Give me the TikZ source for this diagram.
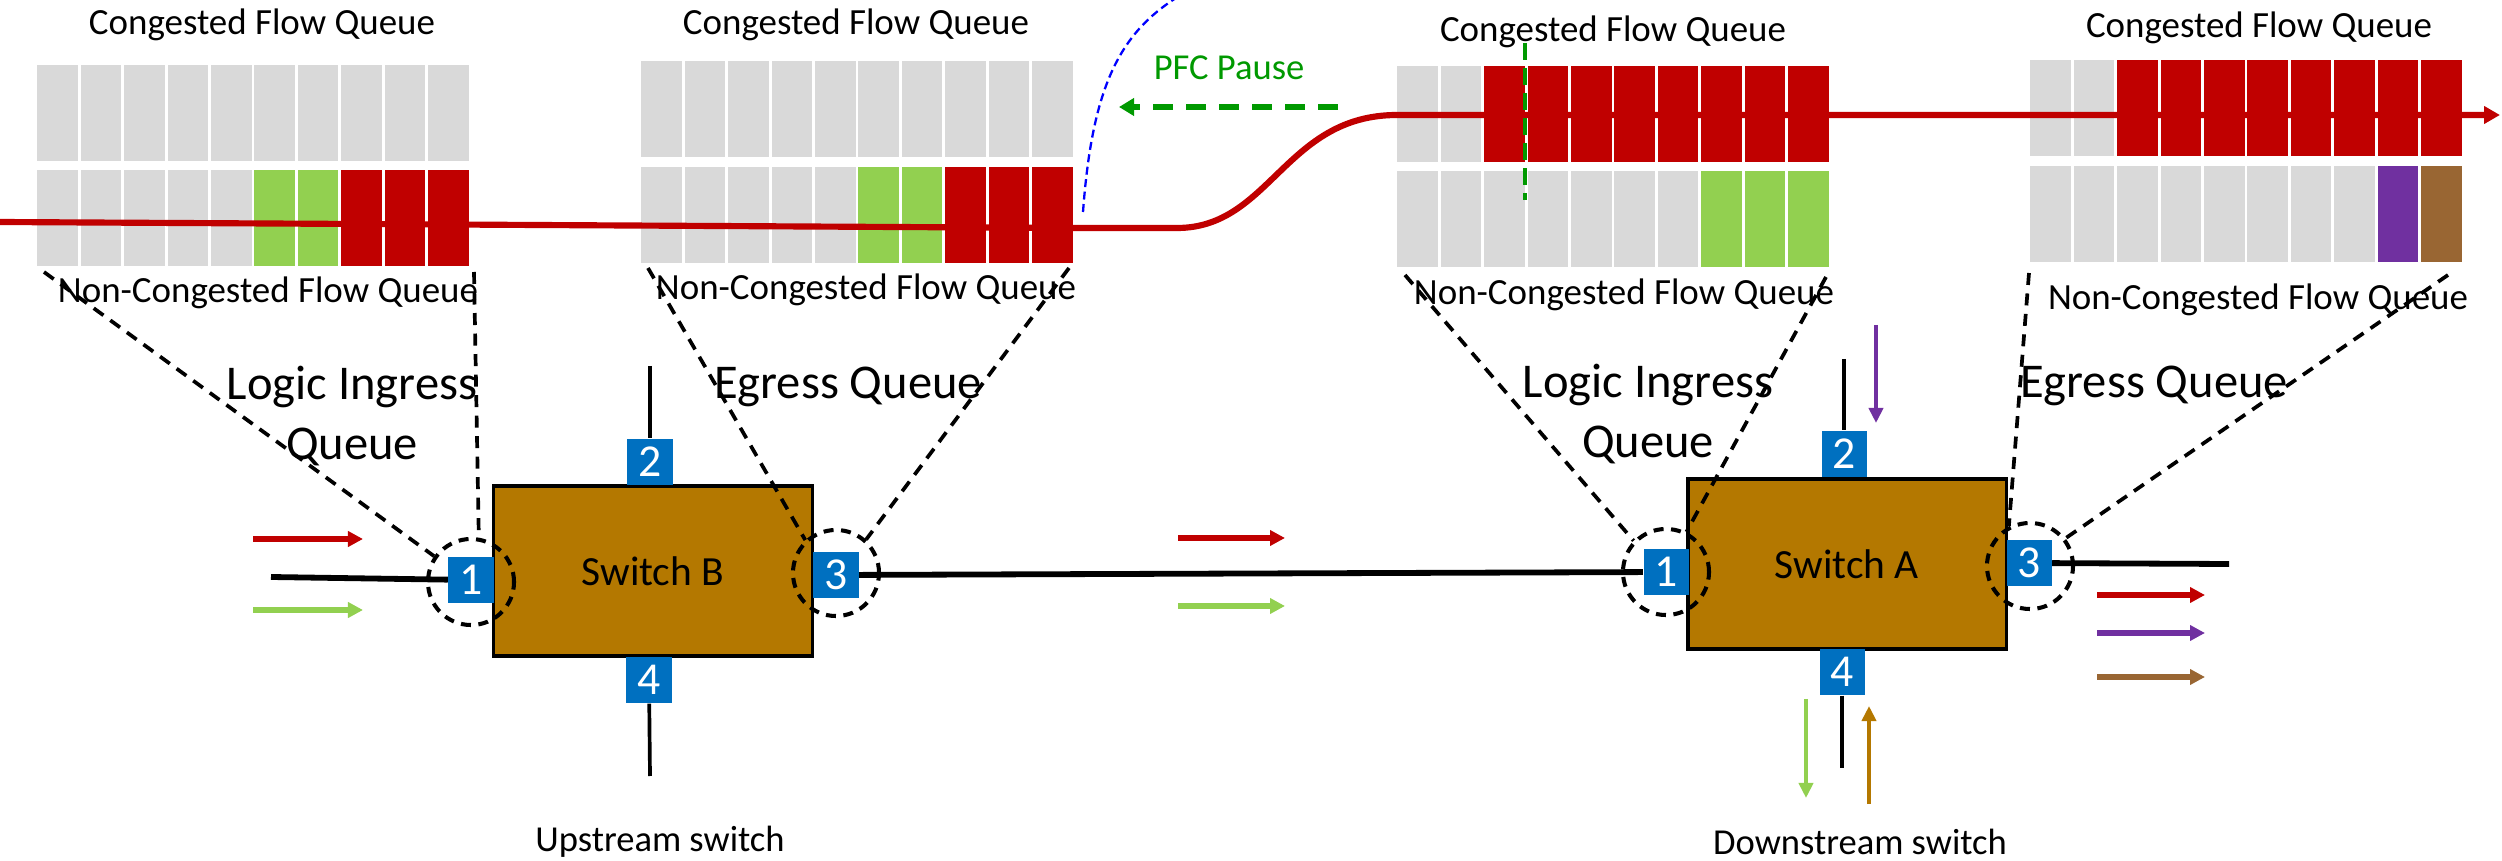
\documentclass[tikz,border=0pt]{standalone}
\usepackage{fontspec}
\setmainfont{Carlito}
\usetikzlibrary{arrows.meta}
\definecolor{qgray}{RGB}{217,217,217}
\definecolor{qred}{RGB}{192,0,0}
\definecolor{qgreen}{RGB}{146,208,80}
\definecolor{qpurple}{RGB}{112,48,160}
\definecolor{qbrown}{RGB}{153,102,51}
\definecolor{swbody}{RGB}{180,120,0}
\definecolor{portblue}{RGB}{0,112,192}
\definecolor{pfcgreen}{RGB}{0,153,0}
\def\qrow(#1,#2)#3{\foreach \qc [count=\i from 0] in {#3} \draw[qcell, fill=\qc] ({#1+\i*43.4}, #2) rectangle +(43.4, 98);}

\begin{document}
\begin{tikzpicture}[x=0.01cm, y=-0.01cm,
    qcell/.style={draw=white, line width=0.8pt},
    portbox/.style={fill=portblue, text=white, minimum width=0.45cm, minimum height=0.46cm, inner sep=0pt, font=\fontsize{13}{13}\selectfont},
    swbox/.style={draw, line width=0.9pt, fill=swbody, minimum width=3.18cm, minimum height=1.70cm, font=\fontsize{11.8}{12}\selectfont},
    zring/.style={circle, draw, line width=1.15pt, dash pattern=on 0.1cm off 0.075cm, minimum size=0.86cm, inner sep=0pt},
    zoomline/.style={line width=1.05pt, dash pattern=on 0.12cm off 0.085cm},
    wire/.style={line width=1.65pt},
    stubwire/.style={line width=1.05pt},
    flow/.style={line width=1.5pt, -{Triangle[length=0.15cm, width=0.15cm]}},
    vflow/.style={line width=1.15pt, -{Triangle[length=0.15cm, width=0.14cm]}},
    qtitle/.style={font=\fontsize{10.5}{12}\selectfont},
    qlabel/.style={font=\fontsize{13.8}{16.8}\selectfont, align=center},
    swname/.style={font=\fontsize{10.4}{12}\selectfont}]
	%%%%% START %%%%%
	\useasboundingbox (0,0) rectangle (2502,861);

	% queues of switch B
	\qrow(36,64){qgray,qgray,qgray,qgray,qgray,qgray,qgray,qgray,qgray,qgray}
	\qrow(36,169){qgray,qgray,qgray,qgray,qgray,qgreen,qgreen,qred,qred,qred}
	\qrow(640,60){qgray,qgray,qgray,qgray,qgray,qgray,qgray,qgray,qgray,qgray}
	\qrow(640,166){qgray,qgray,qgray,qgray,qgray,qgreen,qgreen,qred,qred,qred}

	% queues of switch A
	\qrow(1396,65){qgray,qgray,qred,qred,qred,qred,qred,qred,qred,qred}
	\qrow(1396,170){qgray,qgray,qgray,qgray,qgray,qgray,qgray,qgreen,qgreen,qgreen}
	\qrow(2029,59){qgray,qgray,qred,qred,qred,qred,qred,qred,qred,qred}
	\qrow(2029,165){qgray,qgray,qgray,qgray,qgray,qgray,qgray,qgray,qpurple,qbrown}

	\node[qtitle] (t1) at (262,25) {Congested Flow Queue};
	\node[qtitle] (t2) at (856,25) {Congested Flow Queue};
	\node[qtitle] (t3) at (1613,32) {Congested Flow Queue};
	\node[qtitle] (t4) at (2259,28) {Congested Flow Queue};
	\node[qtitle] (n1) at (268,293) {Non-Congested Flow Queue};
	\node[qtitle] (n2) at (866,290) {Non-Congested Flow Queue};
	\node[qtitle] (n3) at (1624,295) {Non-Congested Flow Queue};
	\node[qtitle] (n4) at (2258,300) {Non-Congested Flow Queue};

	% congested flow
	\draw[qred, line width=1.75pt, -{Triangle[length=0.16cm, width=0.17cm]}] (0,222) -- (1075,228) -- (1177,228)
		.. controls (1270,228) and (1285,115) .. (1397,115) -- (2500,115);

	% pause
	\draw[blue, line width=0.65pt, dash pattern=on 0.08cm off 0.045cm] (1083,212) .. controls (1092,90) and (1118,35) .. (1176,-2);
	\draw[pfcgreen, line width=1.5pt, dash pattern=on 0.2cm off 0.13cm, -{Triangle[length=0.15cm, width=0.17cm]}] (1338,107) -- (1119,107);
	\node[pfcgreen, swname] (pfc) at (1229,68) {PFC Pause};
	\draw[pfcgreen, line width=0.9pt, dash pattern=on 0.17cm off 0.08cm] (1525,43) -- (1525,200);

	% switches
	\node[swbox] (swB) at (653,571) {Switch B};
	\node[swbox] (swA) at (1847,564) {Switch A};

	\node[portbox] (b1) at (471,580) {1};
	\node[portbox] (b2) at (650,462) {2};
	\node[portbox] (b3) at (836,575) {3};
	\node[portbox] (b4) at (649,680) {4};
	\node[portbox] (a1) at (1666,572) {1};
	\node[portbox] (a2) at (1844,454) {2};
	\node[portbox] (a3) at (2029,563) {3};
	\node[portbox] (a4) at (1842,672) {4};

	\coordinate (b1in) at (271,577);
	\coordinate (b2up) at (650,366);
	\coordinate (b4dn) at (650,776);
	\coordinate (a2up) at (1844,359);
	\coordinate (a4dn) at (1842,768);
	\coordinate (a3out) at (2229,564);
	\draw[wire] (b1in) -- (b1);
	\draw[wire] (b3) -- (a1);
	\draw[wire] (a3) -- (a3out);
	\draw[stubwire] (b2up) -- (b2);
	\draw[stubwire] (b4) -- (b4dn);
	\draw[stubwire] (a2up) -- (a2);
	\draw[stubwire] (a4) -- (a4dn);

	% zoom rings and lines
	\node[zring] (rb1) at (471,582) {};
	\node[zring] (rb3) at (836,573) {};
	\node[zring] (ra1) at (1666,572) {};
	\node[zring] (ra3) at (2030,566) {};

	\coordinate (g1l) at (44,272);
	\coordinate (g1r) at (474,272);
	\coordinate (g2l) at (648,268);
	\coordinate (g2r) at (1069,268);
	\coordinate (g3l) at (1405,275);
	\coordinate (g3r) at (1826,277);
	\coordinate (g4l) at (2029,273);
	\coordinate (g4r) at (2448,275);
	\draw[zoomline] (g1l) -- (rb1.145);
	\draw[zoomline] (g1r) -- (rb1.80);
	\draw[zoomline] (g2l) -- (rb3.133);
	\draw[zoomline] (g2r) -- (rb3.48);
	\draw[zoomline] (g3l) -- (ra1.136);
	\draw[zoomline] (g3r) -- (ra1.63);
	\draw[zoomline] (g4l) -- (ra3.118);
	\draw[zoomline] (g4r) -- (ra3.38);

	\node[qlabel] (lib) at (352,416) {Logic Ingress\\Queue};
	\node[qlabel] (eqb) at (848,387) {Egress Queue};
	\node[qlabel] (lia) at (1648,414) {Logic Ingress\\Queue};
	\node[qlabel] (eqa) at (2154,386) {Egress Queue};

	% flows
	\draw[flow, qred] (253,539) -- (363,539);
	\draw[flow, qgreen] (253,610) -- (363,610);
	\draw[flow, qred] (1178,538) -- (1285,538);
	\draw[flow, qgreen] (1178,606) -- (1285,606);
	\draw[flow, qred] (2097,595) -- (2205,595);
	\draw[flow, qpurple] (2097,633) -- (2205,633);
	\draw[flow, qbrown] (2097,677) -- (2205,677);
	\draw[vflow, qpurple] (1876,325) -- (1876,423);
	\draw[vflow, qgreen] (1806,699) -- (1806,798);
	\draw[vflow, swbody] (1869,804) -- (1869,706);

	\node[swname] (up) at (660,842) {Upstream switch};
	\node[swname] (down) at (1860,842) {Downstream switch};
	%%%%% END %%%%%
\end{tikzpicture}
\end{document}
